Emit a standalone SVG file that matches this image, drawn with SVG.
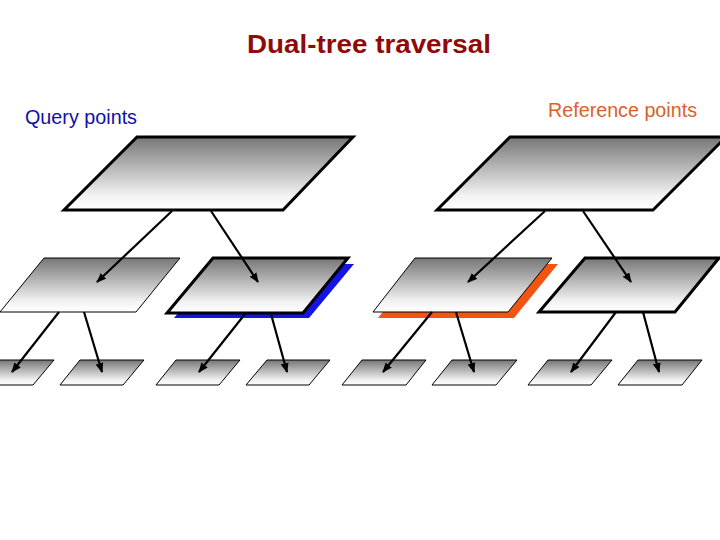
<svg xmlns="http://www.w3.org/2000/svg" width="720" height="540" viewBox="0 0 720 540">
<defs>
<linearGradient id="g" x1="0" y1="0" x2="0" y2="1">
<stop offset="0" stop-color="#767676"/>
<stop offset="0.8" stop-color="#f2f2f2"/>
<stop offset="1" stop-color="#ffffff"/>
</linearGradient>
<marker id="ah" markerUnits="userSpaceOnUse" markerWidth="10" markerHeight="8" refX="9" refY="4" orient="auto">
<path d="M0,0 L10,4 L0,8 Z" fill="#000"/>
</marker>
<style>
.n{fill:url(#g);stroke:#000;stroke-linejoin:miter}
.thick{stroke-width:3}
.thin{stroke-width:1}
.c line{stroke:#000;stroke-width:2.2;marker-end:url(#ah)}
text{font-family:"Liberation Sans",Arial,sans-serif}
</style>
</defs>
<rect width="720" height="540" fill="#fff"/>
<text x="247" y="53" font-size="25" font-weight="bold" fill="#8f0a0a" textLength="244" lengthAdjust="spacingAndGlyphs">Dual-tree traversal</text>
<text x="25" y="124" font-size="20" fill="#1010a8" textLength="112" lengthAdjust="spacingAndGlyphs">Query points</text>
<text x="548" y="117" font-size="20" fill="#d9622a" textLength="149" lengthAdjust="spacingAndGlyphs">Reference points</text>

<g id="q-root"><polygon class="n thick" points="137,137 353,137 283,210 64,210"/></g>
<g id="r-root"><polygon class="n thick" points="510,137 726,137 653,210 437,210"/></g>

<g id="q-left"><polygon class="n thin" points="44,258 180,258 136,312 0,312"/></g>
<g id="q-right">
<polygon points="219,264 354,264 309,318 174,318" fill="#1414e6"/>
<polygon class="n thick" points="213,258 348,258 303,313 167,313"/>
</g>
<g id="r-left">
<polygon points="421,264 558,264 514,318 378,318" fill="#f25512"/>
<polygon class="n thin" points="415,258 552,258 508,312 373,312"/>
</g>
<g id="r-right"><polygon class="n thick" points="585,258 719,258 675,312 539,312"/></g>

<g id="leaf1"><polygon class="n thin" points="-10,360 54,360 33,385 -31,385"/></g>
<g id="leaf2"><polygon class="n thin" points="80,360 144,360 123,385 60,385"/></g>
<g id="leaf3"><polygon class="n thin" points="176,360 240,360 219,385 156,385"/></g>
<g id="leaf4"><polygon class="n thin" points="267,360 330,360 309,385 246,385"/></g>
<g id="leaf5"><polygon class="n thin" points="362,360 426,360 406,385 342,385"/></g>
<g id="leaf6"><polygon class="n thin" points="452,360 517,360 496,385 432,385"/></g>
<g id="leaf7"><polygon class="n thin" points="548,360 612,360 591,385 528,385"/></g>
<g id="leaf8"><polygon class="n thin" points="638,360 702,360 682,385 618,385"/></g>

<g class="c" id="connectors">
<line x1="172" y1="211" x2="97" y2="282"/>
<line x1="211" y1="211" x2="258" y2="282"/>
<line x1="545" y1="211" x2="468" y2="282"/>
<line x1="583" y1="211" x2="631" y2="282"/>
<line x1="59" y1="312" x2="12" y2="372"/>
<line x1="84" y1="312" x2="102" y2="372"/>
<line x1="245" y1="314" x2="199" y2="372"/>
<line x1="271" y1="314" x2="287" y2="372"/>
<line x1="432" y1="312" x2="383" y2="372"/>
<line x1="456" y1="312" x2="474" y2="372"/>
<line x1="616" y1="312" x2="571" y2="372"/>
<line x1="643" y1="312" x2="659" y2="372"/>
</g>
</svg>
